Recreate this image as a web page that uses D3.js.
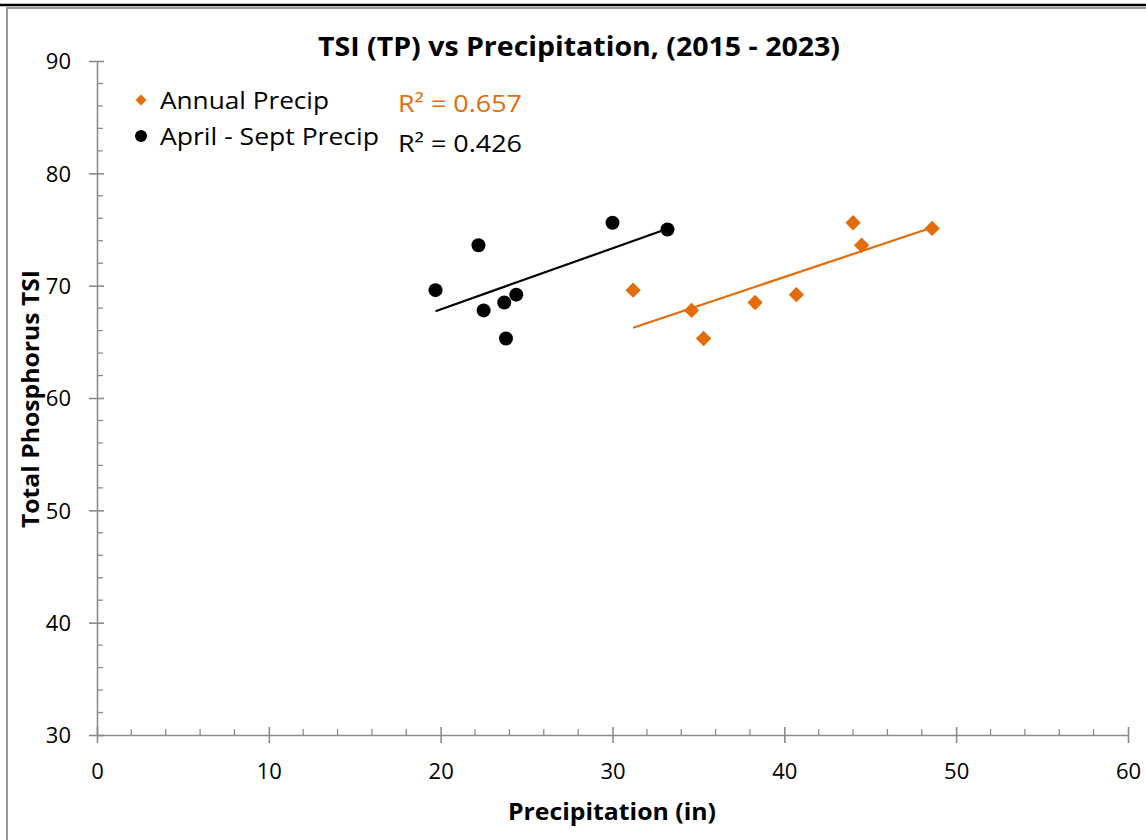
<!DOCTYPE html>
<html>
<head>
<meta charset="utf-8">
<script src="https://cdn.jsdelivr.net/npm/d3@7"></script>
<style>
  body { margin: 0; background: #fff; }
  svg text { font-family: "Open Sans", "Lato", sans-serif; }
</style>
</head>
<body>
<svg id="chart" width="1146" height="840"></svg>
<script>
// precipitation (in) vs total phosphorus TSI, one point per year 2015-2023
const annual_precip = [31.2, 34.6, 35.3, 38.3, 40.7, 44.0, 44.5, 48.6];
const annual_tsi    = [69.6, 67.8, 65.3, 68.5, 69.2, 75.6, 73.6, 75.1];
const summer_precip = [19.7, 22.2, 22.5, 23.7, 23.8, 24.4, 30.0, 33.2];
const summer_tsi    = [69.6, 73.6, 67.8, 68.5, 65.3, 69.2, 75.6, 75.0];

const series_names = ["Annual Precip", "April - Sept Precip"];
const r2_labels = ["R\u00b2 = 0.657", "R\u00b2 = 0.426"];
const x_ticks = [0, 10, 20, 30, 40, 50, 60];
const y_ticks = [30, 40, 50, 60, 70, 80, 90];

const orange = "#e46c0a";
const axis_grey = "#8c8c8c";

const svg = d3.select("#chart");

const x = d3.scaleLinear().domain([0, 60]).range([97, 1128]);
const y = d3.scaleLinear().domain([30, 90]).range([735, 61]);

// outer frame bits (page edge above the chart)
svg.append("rect")
	.attr("x", 7).attr("y", 8)
	.attr("width", 1150).attr("height", 840)
	.attr("fill", "none")
	.attr("stroke", "#9a9a9a")
	.attr("stroke-width", 2);
svg.append("line")
	.attr("x1", 0).attr("x2", 1146)
	.attr("y1", 5).attr("y2", 5)
	.attr("stroke", "#000")
	.attr("stroke-width", 2.5);

// minor ticks (inside), every 2 units
const minor = d3.range(0, 61, 2).filter(d => d % 10 !== 0);
svg.append("g").selectAll("line")
	.data(minor)
	.enter().append("line")
	.attr("x1", d => x(d)).attr("x2", d => x(d))
	.attr("y1", y(30) - 6).attr("y2", y(30))
	.attr("stroke", axis_grey).attr("stroke-width", 1.3);
const yminor = d3.range(30, 91, 2).filter(d => d % 10 !== 0);
svg.append("g").selectAll("line")
	.data(yminor)
	.enter().append("line")
	.attr("x1", x(0)).attr("x2", x(0) + 6)
	.attr("y1", d => y(d)).attr("y2", d => y(d))
	.attr("stroke", axis_grey).attr("stroke-width", 1.3);

// major axes, ticks crossing the line
const xAxis = svg.append("g")
	.attr("transform", `translate(0,${y(30)})`)
	.call(d3.axisBottom(x).tickValues(x_ticks).tickSize(8).tickPadding(20).tickSizeOuter(0));
xAxis.selectAll(".tick line").attr("y1", -8);
const yAxis = svg.append("g")
	.attr("transform", `translate(${x(0)},0)`)
	.call(d3.axisLeft(y).tickValues(y_ticks).tickSize(8).tickPadding(18).tickSizeOuter(0));
yAxis.selectAll(".tick line").attr("x1", 7);

[xAxis, yAxis].forEach(g => {
	g.select(".domain").attr("stroke", axis_grey).attr("stroke-width", 1.6);
	g.selectAll(".tick line").attr("stroke", axis_grey).attr("stroke-width", 1.6);
	g.selectAll(".tick text")
		.attr("fill", "#000")
		.style("font-size", "22px")
		.style("font-family", "'Open Sans', sans-serif");
});
xAxis.selectAll(".tick text").attr("dy", "0.71em");
yAxis.selectAll(".tick text").attr("dy", "0.36em");

// trend lines (least squares over each series)
function fit(xs, ys) {
	const mx = d3.mean(xs), my = d3.mean(ys);
	let sxy = 0, sxx = 0;
	xs.forEach((v, i) => { sxy += (v - mx) * (ys[i] - my); sxx += (v - mx) * (v - mx); });
	const b = sxy / sxx;
	const a = my - b * mx;
	const x0 = d3.min(xs), x1 = d3.max(xs);
	return [[x0, a + b * x0], [x1, a + b * x1]];
}
const line = d3.line().x(d => x(d[0])).y(d => y(d[1]));
svg.append("path")
	.attr("d", line(fit(annual_precip, annual_tsi)))
	.attr("stroke", orange).attr("stroke-width", 2.2).attr("fill", "none");
svg.append("path")
	.attr("d", line(fit(summer_precip, summer_tsi)))
	.attr("stroke", "#000").attr("stroke-width", 2.2).attr("fill", "none");

// points
const diamond = d3.symbol().type(d3.symbolDiamond2).size(150);
svg.append("g").selectAll("path")
	.data(annual_precip)
	.enter().append("path")
	.attr("d", diamond)
	.attr("transform", (d, i) => `translate(${x(d)},${y(annual_tsi[i])})`)
	.attr("fill", orange);
svg.append("g").selectAll("circle")
	.data(summer_precip)
	.enter().append("circle")
	.attr("cx", d => x(d))
	.attr("cy", (d, i) => y(summer_tsi[i]))
	.attr("r", 7)
	.attr("fill", "#000");

// title and axis titles
svg.append("text")
	.attr("x", 579).attr("y", 56)
	.attr("text-anchor", "middle")
	.attr("textLength", 522).attr("lengthAdjust", "spacingAndGlyphs")
	.style("font-size", "26px").style("font-weight", "bold")
	.text("TSI (TP) vs Precipitation, (2015 - 2023)");
svg.append("text")
	.attr("x", 612).attr("y", 820)
	.attr("text-anchor", "middle")
	.attr("textLength", 208).attr("lengthAdjust", "spacingAndGlyphs")
	.style("font-size", "24px").style("font-weight", "bold")
	.text("Precipitation (in)");
svg.append("text")
	.attr("transform", "translate(39,399) rotate(-90)")
	.attr("text-anchor", "middle")
	.attr("textLength", 258).attr("lengthAdjust", "spacingAndGlyphs")
	.style("font-size", "24px").style("font-weight", "bold")
	.text("Total Phosphorus TSI");

// legend
const legend = svg.append("g");
legend.append("path")
	.attr("d", d3.symbol().type(d3.symbolDiamond2).size(75))
	.attr("transform", "translate(141,100)")
	.attr("fill", orange);
legend.append("circle")
	.attr("cx", 141).attr("cy", 136).attr("r", 6)
	.attr("fill", "#000");
legend.selectAll("text.name")
	.data(series_names)
	.enter().append("text")
	.attr("class", "name")
	.attr("x", 160)
	.attr("y", (d, i) => 109 + i * 36)
	.attr("textLength", (d, i) => i === 0 ? 169 : 219)
	.attr("lengthAdjust", "spacingAndGlyphs")
	.style("font-size", "23px")
	.text(d => d);

// R² labels
svg.selectAll("text.r2")
	.data(r2_labels)
	.enter().append("text")
	.attr("class", "r2")
	.attr("x", 398)
	.attr("y", (d, i) => 112 + i * 40)
	.attr("textLength", 124).attr("lengthAdjust", "spacingAndGlyphs")
	.attr("fill", (d, i) => i === 0 ? orange : "#000")
	.style("font-size", "24px")
	.text(d => d);
</script>
</body>
</html>
